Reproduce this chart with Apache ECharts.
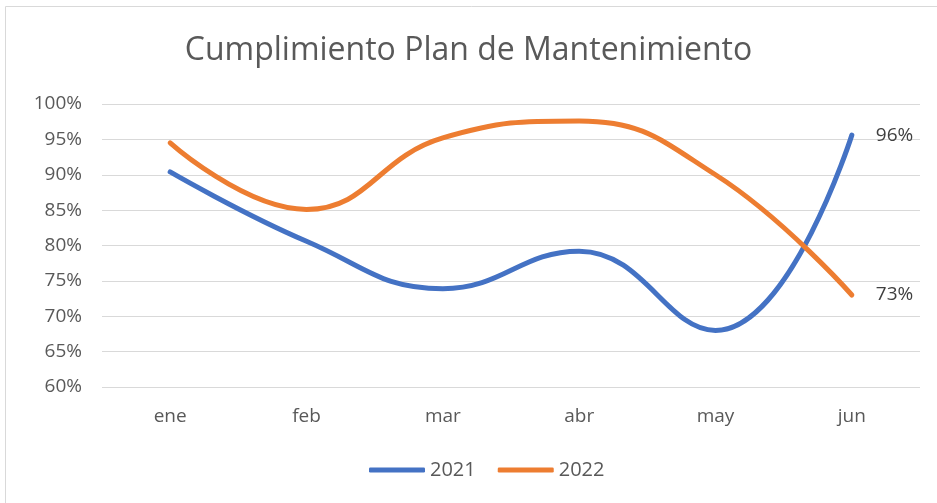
<!DOCTYPE html>
<html>
<head>
<meta charset="utf-8">
<script src="https://cdn.jsdelivr.net/npm/echarts@6/dist/echarts.min.js"></script>
<style>
  html, body { margin: 0; padding: 0; background: #fff; }
  #chart { width: 937px; height: 503px; }
</style>
</head>
<body>
<div id="chart"></div>
<script>
// meses
const months = ["ene", "feb", "mar", "abr", "may", "jun"];
// cumplimiento (%)
const data2021 = [90.4, 80.6, 73.9, 79.2, 68.0, 95.6];
const data2022 = [94.5, 85.1, 95.2, 97.6, 90.0, 73.0];
const seriesNames = ["2021", "2022"];
const colors = ["#4472C4", "#ED7D31"];

const font = "'Open Sans', 'Noto Sans', sans-serif";

// etiqueta al final de la linea
const endLabel = {
  show: true,
  distance: 24,
  formatter: p => Math.round(p.value) + "%",
  color: "#404040",
  fontSize: 19,
  fontFamily: font
};

const chart = echarts.init(document.getElementById("chart"));
chart.setOption({
  animation: false,
  color: colors,
  title: {
    text: "Cumplimiento Plan de Mantenimiento",
    left: "center",
    top: 30,
    textStyle: {
      color: "#595959",
      fontSize: 32,
      fontWeight: "normal",
      fontFamily: font
    }
  },
  graphic: [
    {
      type: "rect",
      shape: { x: 5.5, y: 6.5, width: 940, height: 510 },
      style: { fill: "none", stroke: "#d9d9d9", lineWidth: 1 }
    }
  ],
  legend: {
    bottom: 18,
    left: 364,
    itemWidth: 56,
    itemHeight: 5,
    itemGap: 22,
    icon: "roundRect",
    textStyle: { color: "#595959", fontSize: 20, fontFamily: font },
    data: seriesNames
  },
  grid: {
    left: 102,
    right: 17,
    top: 104,
    bottom: 116
  },
  xAxis: {
    type: "category",
    data: months,
    boundaryGap: true,
    axisLine: { show: false },
    axisTick: { show: false },
    axisLabel: {
      color: "#595959",
      fontSize: 19,
      fontFamily: font,
      margin: 20
    }
  },
  yAxis: {
    type: "value",
    min: 60,
    max: 100,
    interval: 5,
    axisLine: { show: false },
    axisTick: { show: false },
    splitLine: { lineStyle: { color: "#d9d9d9", width: 1 } },
    axisLabel: {
      color: "#595959",
      fontSize: 19,
      fontFamily: font,
      margin: 20,
      formatter: "{value}%"
    }
  },
  series: [
    {
      name: seriesNames[0],
      type: "line",
      smooth: 0.45,
      symbol: "none",
      lineStyle: { width: 5, color: colors[0], cap: "round" },
      endLabel: endLabel,
      data: data2021
    },
    {
      name: seriesNames[1],
      type: "line",
      smooth: 0.45,
      symbol: "none",
      lineStyle: { width: 5, color: colors[1], cap: "round" },
      endLabel: endLabel,
      data: data2022
    }
  ]
});
</script>
</body>
</html>
